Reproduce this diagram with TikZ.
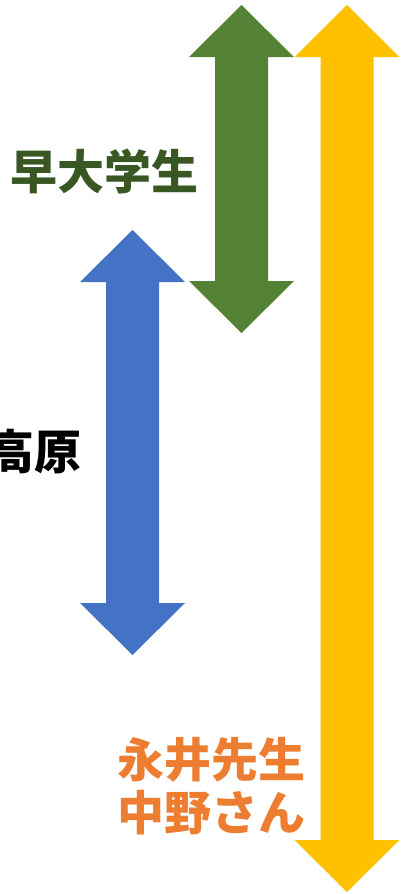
\documentclass[tikz,border=0pt]{standalone}
\usepackage{fontspec}
\newfontfamily\cjk{Noto Sans CJK JP}
\definecolor{arrgreen}{HTML}{548235}
\definecolor{txtgreen}{HTML}{385723}
\definecolor{arrblue}{HTML}{4472C4}
\definecolor{arryellow}{HTML}{FFC000}
\definecolor{txtorange}{HTML}{ED7D31}
\newcommand\dblarrow[4]{%
  \fill[#4] (#1,#2) -- (#1+52.5,#2+52) -- (#1+26.5,#2+52) -- (#1+26.5,#3-52)
    -- (#1+52.5,#3-52) -- (#1,#3) -- (#1-52.5,#3-52) -- (#1-26.5,#3-52)
    -- (#1-26.5,#2+52) -- (#1-52.5,#2+52) -- cycle;}
\tikzset{lbl/.style={inner sep=0pt, font=\cjk\bfseries\fontsize{47}{54}\selectfont}}
\begin{document}
\begin{tikzpicture}[x=1pt,y=-1pt]
\useasboundingbox (0,0) rectangle (405,894);
\dblarrow{241.5}{5}{333}{arrgreen}
\dblarrow{347}{5}{892}{arryellow}
\dblarrow{132.5}{230}{655}{arrblue}
\node[lbl, text=txtgreen] (waseda) at (104,172) {早大学生};
\node[lbl, text=black, anchor=east] (kogen) at (82,452) {高原};
\node[lbl, text=txtorange, anchor=west] (nagai) at (117,760) {永井先生};
\node[lbl, text=txtorange, anchor=west] (nakano) at (117,813) {中野さん};
\end{tikzpicture}
\end{document}
